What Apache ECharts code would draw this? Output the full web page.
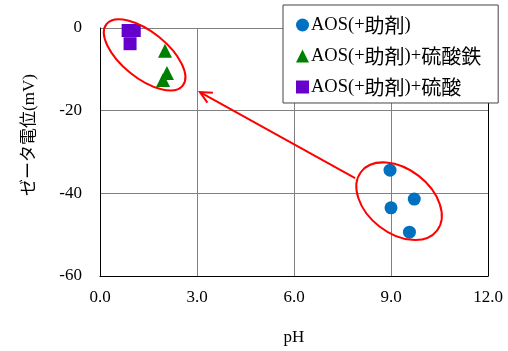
<!DOCTYPE html>
<html><head><meta charset="utf-8">
<script src="https://cdn.jsdelivr.net/npm/echarts@6/dist/echarts.min.js"></script>
<style>html,body{margin:0;padding:0;background:#fff}#c{width:508px;height:351px}</style>
</head><body><div id="c"></div>
<script>
const seriesNames = ['AOS(+助剤)', 'AOS(+助剤)+硫酸鉄', 'AOS(+助剤)+硫酸'];
const aosPH = [8.97, 9.72, 9.0, 9.57];
const aosZeta = [-34.4, -41.4, -43.5, -49.4];
const ironPH = [2.01, 2.07, 1.95];
const ironZeta = [-5.5, -10.9, -12.6];
const acidPH = [0.87, 1.06, 0.93];
const acidZeta = [-0.6, -0.6, -3.8];
const xTicks = { min: 0, max: 12, interval: 3 };
const yTicks = { min: -60, max: 0, interval: 20 };

const FONT = '"Liberation Serif", "Noto Sans CJK JP", serif';
const CJK = '"Noto Sans CJK JP", sans-serif';
const zip = (a, b) => a.map((v, i) => [v, b[i]]);
// split a label into latin / CJK runs for rich text
function richLabel(s) {
  return s.replace(/([\u3000-\u9fff]+)/g, '\u0000$1\u0001')
    .split(/(\u0000[^\u0001]*\u0001)/).filter(t => t.length)
    .map(t => t[0] === '\u0000' ? '{b|' + t.slice(1, -1) + '}' : '{a|' + t + '}').join('');
}

const chart = echarts.init(document.getElementById('c'), null, { renderer: 'canvas' });
chart.setOption({
  animation: false,
  backgroundColor: '#fff',
  grid: { left: 100, right: 20, top: 28, bottom: 74 },
  xAxis: {
    type: 'value', min: xTicks.min, max: xTicks.max, interval: xTicks.interval,
    name: 'pH', nameLocation: 'middle', nameGap: 53,
    nameTextStyle: { fontFamily: FONT, fontSize: 17, color: '#000' },
    axisLine: { show: true, onZero: false, lineStyle: { color: '#000', width: 1 } },
    axisTick: { show: false },
    axisLabel: { fontFamily: FONT, fontSize: 17, color: '#000', margin: 13, formatter: v => v.toFixed(1) },
    splitLine: { show: true, lineStyle: { color: '#808080', width: 1 } }
  },
  yAxis: [{
    type: 'value', min: yTicks.min, max: yTicks.max, interval: yTicks.interval,
    name: 'ゼータ電位(mV)', nameLocation: 'middle', nameGap: 62, nameRotate: 90,
    nameTextStyle: { fontFamily: FONT, fontSize: 17, color: '#000', padding: [0, 0, 0, 34] },
    axisLine: { show: true, onZero: false, lineStyle: { color: '#000', width: 1 } },
    axisTick: { show: false },
    axisLabel: { fontFamily: FONT, fontSize: 17, color: '#000', margin: 18 },
    splitLine: { show: true, lineStyle: { color: '#808080', width: 1 } }
  }, {
    type: 'value', position: 'right', min: yTicks.min, max: yTicks.max, interval: yTicks.interval,
    axisLine: { show: true, onZero: false, lineStyle: { color: '#000', width: 1 } },
    axisTick: { show: false }, axisLabel: { show: false }, splitLine: { show: false }
  }],
  legend: {
    orient: 'vertical', left: 283, top: 5,
    backgroundColor: '#fff', borderColor: '#444', borderWidth: 1,
    padding: [10, 17, 6, 13], itemGap: 11, itemWidth: 13, itemHeight: 13,
    formatter: n => richLabel(n),
    textStyle: {
      color: '#000', padding: [0, 0, 0, -3],
      rich: {
        a: { fontFamily: FONT, fontSize: 18.5, color: '#000' },
        b: { fontFamily: CJK, fontSize: 20, color: '#000' }
      }
    },
    data: seriesNames, z: 10
  },
  series: [
    { name: seriesNames[0], type: 'scatter', symbol: 'circle', symbolSize: 13,
      itemStyle: { color: '#0070C0', opacity: 1 }, data: zip(aosPH, aosZeta), z: 3 },
    { name: seriesNames[1], type: 'scatter', symbol: 'triangle', symbolSize: 14,
      itemStyle: { color: '#008000', opacity: 1 }, data: zip(ironPH, ironZeta), z: 3 },
    { name: seriesNames[2], type: 'scatter', symbol: 'rect', symbolSize: 13,
      itemStyle: { color: '#6600CC', opacity: 1 }, data: zip(acidPH, acidZeta), z: 3 }
  ]
});

// annotations (red ellipses + arrow) positioned in data coordinates
function px(p) { return chart.convertToPixel({ gridIndex: 0 }, p); }
const e1 = px([1.38, -6.5]);
const e2 = px([9.25, -41.9]);
const tail = px([7.89, -36.3]);
const tip = px([3.09, -15.5]);
const ang = Math.atan2(tail[1] - tip[1], tail[0] - tip[0]);
const headLen = 13, headAng = 0.45;
const h1 = [tip[0] + headLen * Math.cos(ang + headAng), tip[1] + headLen * Math.sin(ang + headAng)];
const h2 = [tip[0] + headLen * Math.cos(ang - headAng), tip[1] + headLen * Math.sin(ang - headAng)];
const red = { stroke: '#FF0000', lineWidth: 2, fill: null };
chart.setOption({
  graphic: [
    { type: 'ellipse', x: e1[0], y: e1[1], rotation: -0.68, shape: { cx: 0, cy: 0, rx: 49, ry: 23 }, style: red, z: 20 },
    { type: 'ellipse', x: e2[0], y: e2[1], rotation: -0.66, shape: { cx: 0, cy: 0, rx: 48, ry: 32 }, style: red, z: 20 },
    { type: 'line', shape: { x1: tail[0], y1: tail[1], x2: tip[0], y2: tip[1] }, style: { stroke: '#FF0000', lineWidth: 2 }, z: 20 },
    { type: 'polyline', shape: { points: [h1, tip, h2] }, style: { stroke: '#FF0000', lineWidth: 2, fill: null }, z: 20 }
  ]
});
</script></body></html>
